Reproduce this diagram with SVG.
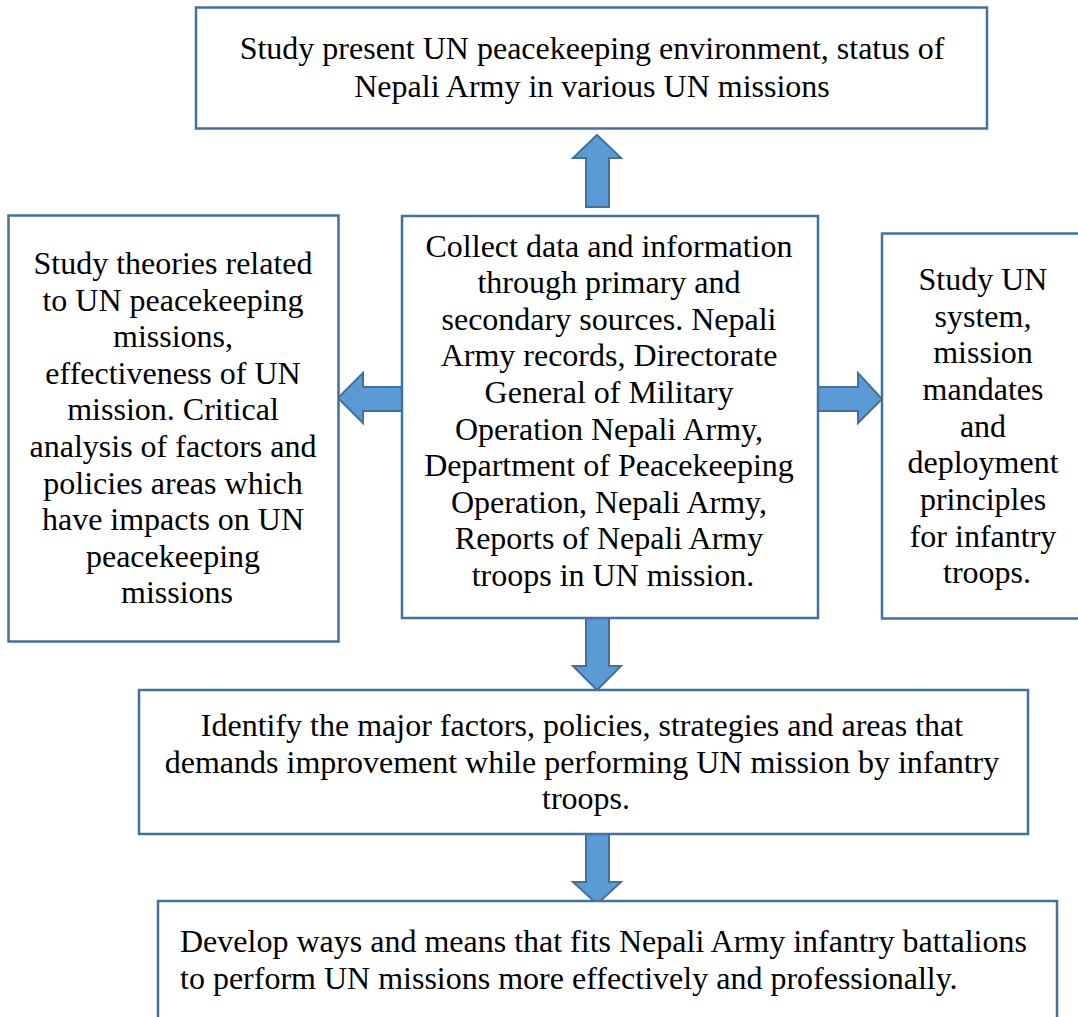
<svg xmlns="http://www.w3.org/2000/svg" width="1078" height="1017" viewBox="0 0 1078 1017">
<style>
.box{fill:#fff;stroke:#41719C;stroke-width:2.5}
.arr{fill:#5B9BD5;stroke:#41719C;stroke-width:2;stroke-linejoin:miter}
text{font-family:"Liberation Serif","Times New Roman",serif;font-size:32px;fill:#000}
.c{text-anchor:middle}
</style>
<rect width="1078" height="1017" fill="#fff"/>
<g id="connectors">
<polygon class="arr" points="586,207 586,158 573,158 597,135 621,158 609,158 609,207"/>
<polygon class="arr" points="402,387 363,387 363,373 338,398 363,423 363,411 402,411"/>
<polygon class="arr" points="818,387 858,387 858,373 882,399 858,423 858,411 818,411"/>
<polygon class="arr" points="586,618 586,666 573,666 597,690 621,666 609,666 609,618"/>
<polygon class="arr" points="586,834 586,882 573,882 597,904 621,882 609,882 609,834"/>
</g>
<g id="node-top">
<rect class="box" x="196" y="7.5" width="791" height="121"/>
<text class="c" x="592" y="59">Study present UN peacekeeping environment, status of</text>
<text class="c" x="592" y="97">Nepali Army in various UN missions</text>
</g>
<g id="node-left">
<rect class="box" x="8.5" y="215.5" width="330" height="426"/>
<text class="c" x="177">
<tspan x="177" y="274">Study theories related</tspan>
<tspan x="177" y="311">to UN peacekeeping</tspan>
<tspan x="177" y="347">missions,</tspan>
<tspan x="177" y="384">effectiveness of UN</tspan>
<tspan x="177" y="420">mission. Critical</tspan>
<tspan x="177" y="457">analysis of factors and</tspan>
<tspan x="177" y="494">policies areas which</tspan>
<tspan x="177" y="530">have impacts on UN</tspan>
<tspan x="177" y="567">peacekeeping</tspan>
<tspan x="177" y="603">missions</tspan>
</text>
</g>
<g id="node-center">
<rect class="box" x="402" y="216" width="416" height="402"/>
<text class="c" x="613">
<tspan x="613" y="257">Collect data and information</tspan>
<tspan x="613" y="293">through primary and</tspan>
<tspan x="613" y="330">secondary sources. Nepali</tspan>
<tspan x="613" y="366">Army records, Directorate</tspan>
<tspan x="613" y="403">General of Military</tspan>
<tspan x="613" y="440">Operation Nepali Army,</tspan>
<tspan x="613" y="476">Department of Peacekeeping</tspan>
<tspan x="613" y="513">Operation, Nepali Army,</tspan>
<tspan x="613" y="549">Reports of Nepali Army</tspan>
<tspan x="613" y="586">troops in UN mission.</tspan>
</text>
</g>
<g id="node-right">
<rect class="box" x="882" y="233.5" width="210" height="385"/>
<text class="c" x="987">
<tspan x="987" y="290">Study UN</tspan>
<tspan x="987" y="327">system,</tspan>
<tspan x="987" y="363">mission</tspan>
<tspan x="987" y="400">mandates</tspan>
<tspan x="987" y="437">and</tspan>
<tspan x="987" y="473">deployment</tspan>
<tspan x="987" y="510">principles</tspan>
<tspan x="987" y="547">for infantry</tspan>
<tspan x="987" y="583">troops.</tspan>
</text>
</g>
<g id="node-identify">
<rect class="box" x="139" y="690" width="889" height="144"/>
<text class="c" x="586">
<tspan x="586" y="736">Identify the major factors, policies, strategies and areas that</tspan>
<tspan x="586" y="773">demands improvement while performing UN mission by infantry</tspan>
<tspan x="586" y="809">troops.</tspan>
</text>
</g>
<g id="node-develop">
<rect class="box" x="158" y="901" width="899" height="140"/>
<text x="180">
<tspan x="180" y="952">Develop ways and means that fits Nepali Army infantry battalions</tspan>
<tspan x="180" y="989">to perform UN missions more effectively and professionally.</tspan>
</text>
</g>
</svg>
